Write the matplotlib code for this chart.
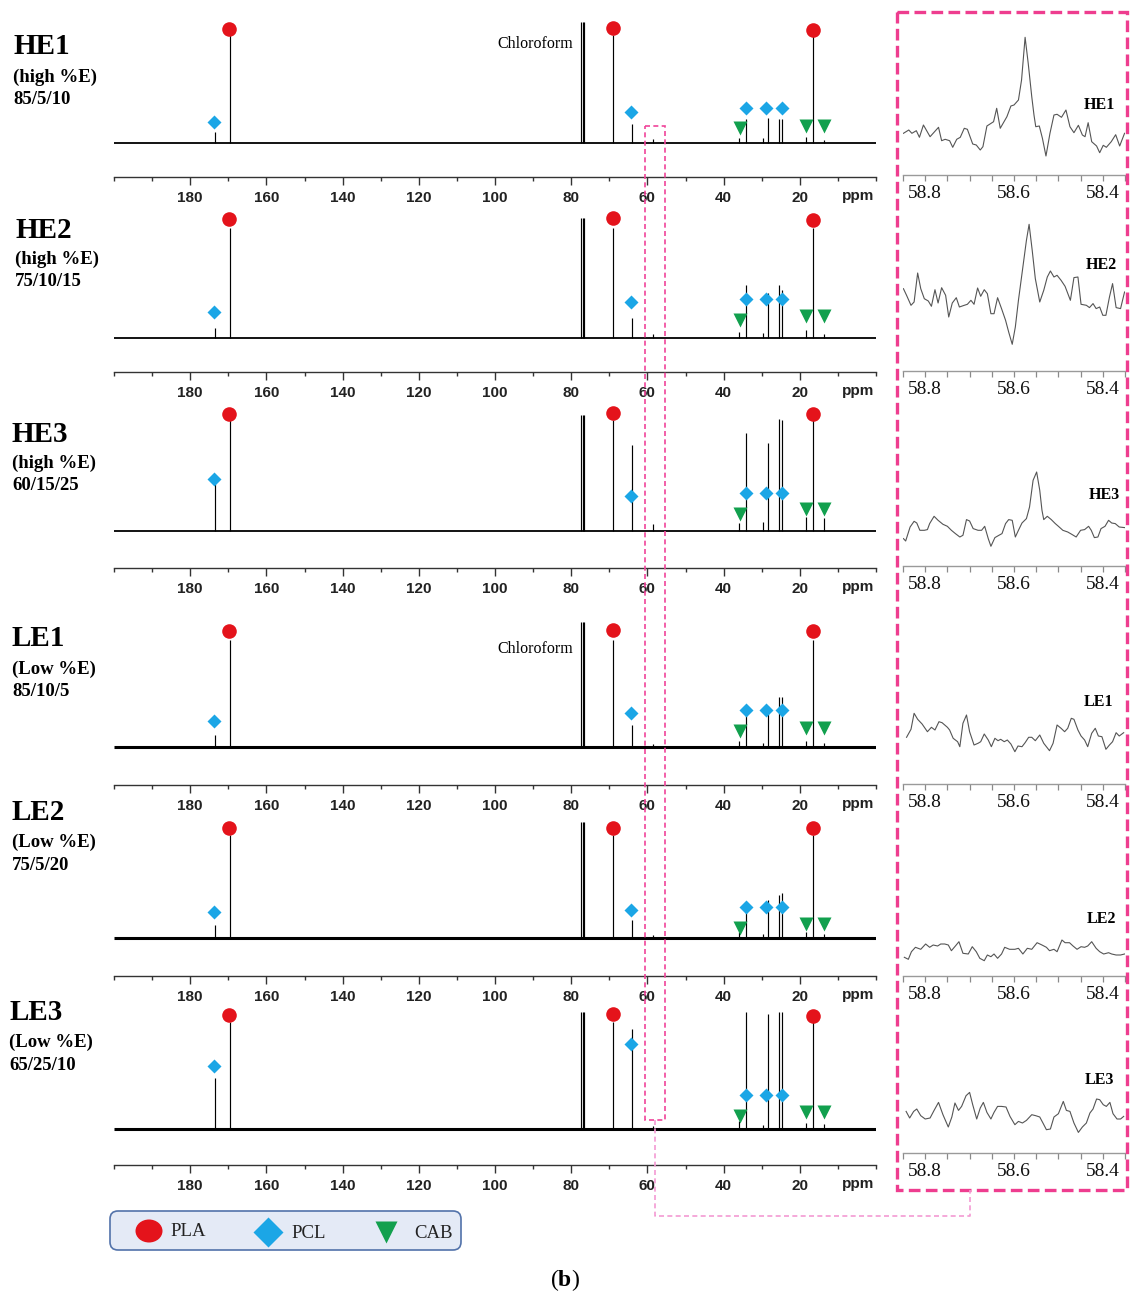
import numpy as np
import matplotlib
matplotlib.use("Agg")
import matplotlib.pyplot as plt
from matplotlib.patches import FancyBboxPatch, Rectangle, Ellipse
from matplotlib.ticker import MultipleLocator

plt.rcParams['mathtext.fontset'] = 'custom'
plt.rcParams['mathtext.rm'] = 'Liberation Serif'
plt.rcParams['mathtext.bf'] = 'Liberation Serif:bold'

W, H = 1130, 1296

# ---------------- data ----------------
sample_names = ["HE1", "HE2", "HE3", "LE1", "LE2", "LE3"]
sample_energy = ["(high %E)", "(high %E)", "(high %E)", "(Low %E)", "(Low %E)", "(Low %E)"]
sample_ratio = ["85/5/10", "75/10/15", "60/15/25", "85/10/5", "75/5/20", "65/25/10"]

# peak positions (ppm): PCL C=O, PLA C=O, CDCl3 triplet, PLA CH, PCL OCH2, 58.6, CAB, PCL, 29.6, PCL, PCL, PCL, CAB, PLA CH3, CAB
peak_ppm = [173.5, 169.6, 77.3, 77.0, 76.7, 69.0, 64.1, 58.6, 35.9, 34.1, 29.6, 28.3, 25.5, 24.6, 18.4, 16.6, 13.7]
chloroform_ppm = [77.3, 77.0, 76.7]
peak_int = {
    "HE1": [11, 108, 121, 121, 121, 108, 19, 4, 5, 24, 5, 25, 24, 24, 6, 108, 3],
    "HE2": [10, 110, 120, 120, 120, 110, 20, 4, 6, 53, 5, 45, 53, 48, 8, 110, 4],
    "HE3": [47, 111, 116, 116, 116, 111, 86, 7, 8, 98, 9, 88, 112, 111, 14, 111, 13],
    "LE1": [12, 107, 125, 125, 125, 107, 22, 3, 6, 42, 4, 41, 50, 50, 6, 107, 4],
    "LE2": [13, 103, 116, 116, 116, 103, 18, 3, 6, 33, 4, 38, 43, 45, 6, 103, 4],
    "LE3": [51, 107, 117, 117, 117, 107, 100, 3, 8, 117, 4, 115, 117, 117, 6, 107, 5],
}

# marker positions (ppm) and heights above baseline
pla_mark_ppm = [169.7, 68.9, 16.5]
pcl_mark_ppm = [173.7, 64.2, 34.0, 28.8, 24.7]
cab_mark_ppm = [35.8, 18.3, 13.6]
pla_mark_h = {"HE1": [114, 115, 113], "HE2": [119, 120, 118], "HE3": [117, 118, 117],
              "LE1": [116, 117, 116], "LE2": [110, 110, 110], "LE3": [114, 115, 113]}
pcl_mark_h = {"HE1": [21, 31, 35, 35, 35], "HE2": [26, 36, 39, 39, 39], "HE3": [52, 35, 38, 38, 38],
              "LE1": [26, 34, 37, 37, 37], "LE2": [26, 28, 31, 31, 31], "LE3": [63, 85, 34, 34, 34]}
cab_mark_h = {"HE1": [15, 17, 17], "HE2": [18, 22, 22], "HE3": [17, 22, 22],
              "LE1": [16, 19, 19], "LE2": [10, 14, 14], "LE3": [13, 17, 17]}

main_ticks = [180, 160, 140, 120, 100, 80, 60, 40, 20]
main_tick_labels = ["180", "160", "140", "120", "100", "80", "60", "40", "20"]
inset_ticks = [58.8, 58.6, 58.4]
inset_tick_labels = ["58.8", "58.6", "58.4"]

# zoomed traces around 58.6 ppm
inset_ppm = {
    "HE1": [58.849, 58.837, 58.830, 58.820, 58.813, 58.804, 58.789, 58.770, 58.763, 58.755, 58.745, 58.738,
            58.729, 58.721, 58.712, 58.705, 58.693, 58.685, 58.676, 58.670, 58.661, 58.646, 58.639, 58.631,
            58.616, 58.607, 58.600, 58.590, 58.583, 58.575, 58.568, 58.560, 58.555, 58.551, 58.543, 58.536,
            58.528, 58.519, 58.510, 58.503, 58.493, 58.483, 58.474, 58.465, 58.455, 58.446, 58.440, 58.433,
            58.425, 58.414, 58.407, 58.399, 58.392, 58.381, 58.371, 58.362, 58.351],
    "HE2": [58.849, 58.842, 58.832, 58.825, 58.817, 58.810, 58.802, 58.793, 58.786, 58.778, 58.771, 58.763,
            58.754, 58.747, 58.739, 58.730, 58.723, 58.712, 58.705, 58.697, 58.690, 58.682, 58.675, 58.667,
            58.660, 58.652, 58.645, 58.637, 58.628, 58.619, 58.612, 58.604, 58.597, 58.590, 58.580, 58.572,
            58.566, 58.559, 58.552, 58.542, 58.533, 58.525, 58.518, 58.510, 58.503, 58.494, 58.485, 58.473,
            58.465, 58.456, 58.449, 58.437, 58.430, 58.422, 58.415, 58.407, 58.400, 58.393, 58.385, 58.378,
            58.370, 58.360, 58.351],
    "HE3": [58.849, 58.844, 58.834, 58.825, 58.819, 58.812, 58.802, 58.795, 58.790, 58.780, 58.771, 58.760,
            58.750, 58.741, 58.732, 58.722, 58.715, 58.707, 58.700, 58.692, 58.681, 58.673, 58.666, 58.658,
            58.652, 58.643, 58.634, 58.627, 58.619, 58.612, 58.604, 58.597, 58.590, 58.582, 58.572, 58.565,
            58.557, 58.549, 58.542, 58.537, 58.533, 58.525, 58.516, 58.507, 58.500, 58.490, 58.479, 58.470,
            58.460, 58.450, 58.441, 58.432, 58.426, 58.419, 58.411, 58.404, 58.395, 58.387, 58.380, 58.372,
            58.363, 58.351],
    "LE1": [58.842, 58.832, 58.825, 58.817, 58.807, 58.795, 58.786, 58.778, 58.769, 58.762, 58.750, 58.745,
            58.737, 58.727, 58.722, 58.715, 58.707, 58.700, 58.690, 58.681, 58.675, 58.667, 58.658, 58.651,
            58.643, 58.636, 58.630, 58.622, 58.615, 58.607, 58.598, 58.591, 58.582, 58.575, 58.567, 58.560,
            58.552, 58.542, 58.533, 58.520, 58.512, 58.503, 58.494, 58.486, 58.479, 58.471, 58.465, 58.456,
            58.449, 58.441, 58.434, 58.425, 58.417, 58.410, 58.402, 58.393, 58.385, 58.378, 58.370, 58.363,
            58.353],
    "LE2": [58.847, 58.838, 58.831, 58.822, 58.810, 58.799, 58.790, 58.782, 58.772, 58.765, 58.756, 58.748,
            58.741, 58.732, 58.724, 58.715, 58.703, 58.694, 58.685, 58.677, 58.667, 58.660, 58.652, 58.645,
            58.637, 58.628, 58.621, 58.610, 58.598, 58.590, 58.580, 58.570, 58.560, 58.548, 58.537, 58.527,
            58.520, 58.510, 58.503, 58.492, 58.485, 58.475, 58.467, 58.458, 58.449, 58.441, 58.434, 58.425,
            58.415, 58.407, 58.398, 58.387, 58.380, 58.370, 58.360, 58.351],
    "LE3": [58.843, 58.835, 58.826, 58.819, 58.810, 58.800, 58.789, 58.780, 58.770, 58.760, 58.748, 58.740,
            58.733, 58.725, 58.718, 58.708, 58.700, 58.693, 58.684, 58.676, 58.669, 58.661, 58.652, 58.645,
            58.637, 58.628, 58.618, 58.609, 58.598, 58.590, 58.581, 58.572, 58.560, 58.551, 58.542, 58.534,
            58.527, 58.518, 58.510, 58.500, 58.489, 58.482, 58.474, 58.465, 58.455, 58.446, 58.437, 58.429,
            58.422, 58.414, 58.407, 58.399, 58.392, 58.384, 58.377, 58.368, 58.360, 58.353],
}
inset_int = {
    "HE1": [41.7, 45.0, 41.7, 44.3, 37.7, 50.0, 38.3, 47.7, 34.3, 35.7, 34.3, 27.7, 35.7, 37.7, 46.7, 45.7,
            31.0, 30.0, 25.0, 28.3, 49.0, 53.3, 66.7, 46.7, 58.3, 69.0, 70.0, 75.0, 95.0, 137.7, 111.7, 78.3,
            60.0, 48.3, 49.0, 36.7, 19.0, 41.7, 60.0, 60.7, 57.7, 65.0, 48.3, 42.3, 49.7, 40.0, 38.3, 52.3,
            33.3, 29.0, 22.3, 29.7, 27.7, 33.3, 40.3, 29.0, 41.7],
    "HE2": [82.3, 75.7, 65.7, 69.0, 98.0, 82.3, 72.3, 70.0, 64.7, 81.3, 68.0, 83.3, 75.7, 54.0, 68.0, 73.3,
            64.0, 65.7, 66.7, 70.7, 66.7, 83.0, 74.7, 81.3, 77.3, 57.3, 57.3, 73.3, 62.3, 50.7, 39.0, 26.7,
            44.0, 70.7, 104.0, 130.7, 146.7, 120.7, 92.4, 69.0, 80.7, 94.0, 100.0, 94.0, 95.7, 90.7, 84.7, 70.7,
            93.4, 94.0, 66.7, 65.7, 63.4, 67.4, 62.4, 64.0, 55.7, 55.7, 74.0, 87.4, 63.4, 62.4, 79.0],
    "HE3": [27.4, 25.0, 39.0, 44.7, 43.0, 35.7, 35.7, 36.4, 42.4, 49.7, 45.7, 41.7, 39.7, 35.7, 32.4, 29.0,
            30.7, 46.4, 45.0, 37.4, 35.7, 35.7, 39.7, 27.4, 19.7, 28.4, 30.7, 32.4, 42.4, 46.4, 45.7, 29.0,
            35.7, 43.0, 47.4, 59.0, 85.7, 94.0, 75.7, 55.7, 46.4, 49.7, 46.4, 42.4, 39.7, 35.7, 34.0, 31.7,
            29.0, 35.7, 36.4, 39.7, 35.7, 28.4, 29.0, 37.4, 39.7, 45.7, 43.0, 42.4, 39.0, 38.4],
    "LE1": [46.7, 54.7, 70.7, 64.7, 60.0, 52.3, 56.7, 54.0, 62.3, 61.3, 56.7, 54.0, 45.7, 42.3, 37.3, 60.7,
            69.0, 52.3, 39.0, 40.7, 42.3, 50.0, 44.0, 37.3, 45.7, 43.3, 44.7, 42.3, 44.0, 40.0, 32.3, 38.0,
            37.3, 41.3, 46.7, 46.7, 43.3, 49.0, 40.7, 33.3, 40.7, 59.0, 55.7, 52.3, 55.7, 65.7, 64.7, 54.0,
            48.0, 44.0, 37.3, 50.7, 55.7, 48.0, 47.3, 34.7, 39.0, 42.3, 51.3, 48.0, 51.3],
    "LE2": [18.7, 16.7, 24.3, 28.7, 26.7, 32.0, 28.7, 31.0, 30.0, 32.0, 32.0, 31.0, 25.3, 30.0, 34.3, 22.7,
            22.0, 29.3, 24.3, 17.7, 15.3, 21.0, 19.3, 22.0, 17.7, 22.0, 28.7, 26.7, 26.7, 27.7, 22.0, 27.7,
            26.7, 33.3, 31.0, 28.7, 25.3, 26.7, 24.3, 36.0, 33.3, 33.3, 30.0, 26.7, 29.3, 28.7, 30.0, 34.3,
            27.7, 24.3, 22.0, 23.3, 22.0, 21.0, 21.0, 22.0],
    "LE3": [41.6, 35.0, 41.6, 44.0, 37.3, 34.0, 35.0, 42.6, 50.6, 38.3, 26.0, 36.0, 50.0, 42.6, 46.6, 57.3,
            60.6, 48.3, 34.0, 45.0, 50.6, 40.6, 34.0, 40.6, 46.6, 46.6, 46.0, 36.6, 28.3, 31.6, 30.0, 32.6,
            38.3, 37.3, 36.0, 29.3, 23.3, 24.0, 36.0, 39.3, 51.6, 42.6, 41.6, 30.0, 20.6, 26.0, 30.0, 40.0,
            44.0, 54.0, 53.3, 48.3, 46.6, 50.6, 39.3, 34.0, 34.0, 36.6],
}

legend_labels = ["PLA", "PCL", "CAB"]

# ---------------- layout (pixels) ----------------
axis_y = [177, 372, 568, 785, 976, 1165]
base_y = [143, 338, 531, 747, 938, 1129]
name_y = [47, 230, 434, 639, 813, 1013]
energy_y = [77, 259, 463, 669, 842, 1042]
ratio_y = [100, 282, 486, 691, 866, 1066]
label_x = [13, 15, 12, 12, 12, 9]
noise_lw = [1.3, 1.3, 1.3, 2.2, 2.2, 2.2]
inset_axis_y = [175, 371, 566, 784, 976, 1153]
inset_label_xy = [(1099, 105), (1101, 265), (1104, 495), (1099, 702), (1101, 919), (1099, 1080)]
chloro_label_y = {0: 44, 3: 649}

RED = '#e4131b'
BLUE = '#1ba6e6'
GREEN = '#12a04e'
PINK = '#ee3d8f'

SERIF = 'Liberation Serif'
SANS = 'Liberation Sans'

fig = plt.figure(figsize=(W / 100, H / 100), dpi=100)
fig.patch.set_facecolor('white')


def fx(x):
    return x / W


def fy(y):
    return 1 - y / H


AX_L, AX_R = 114, 876
PANEL_H = 175
for i, name in enumerate(sample_names):
    off = axis_y[i] - base_y[i]
    ax = fig.add_axes([fx(AX_L), fy(axis_y[i]), (AX_R - AX_L) / W, PANEL_H / H])
    ax.set_xlim(200, 0)
    ax.set_ylim(-off, PANEL_H - off)
    ax.patch.set_visible(False)
    for s in ['left', 'right', 'top']:
        ax.spines[s].set_visible(False)
    ax.spines['bottom'].set_color('#333333')
    ax.spines['bottom'].set_linewidth(1.0)
    ax.set_yticks([])
    ax.set_xticks(main_ticks, labels=main_tick_labels, fontweight='bold', fontfamily=SANS, fontsize=11)
    ax.xaxis.set_minor_locator(MultipleLocator(10))
    ax.tick_params(axis='x', which='major', length=6, width=1.0, color='#333333', pad=4, labelcolor='#222222')
    ax.tick_params(axis='x', which='minor', length=3, width=1.0, color='#333333')

    # baseline (noise band)
    ax.plot([200, 0], [0, 0], color='black', lw=noise_lw[i], solid_capstyle='butt', zorder=2)
    # peaks
    ints = peak_int[name]
    for p, h in zip(peak_ppm, ints):
        ax.vlines(p, 0, h, color='black', lw=0.85, zorder=2)
    # assignment markers
    ax.plot(pla_mark_ppm, pla_mark_h[name], 'o', color=RED, ms=10.5, mec='none', clip_on=False, zorder=5)
    ax.plot(pcl_mark_ppm, pcl_mark_h[name], 'D', color=BLUE, ms=7.2, mec='none', clip_on=False, zorder=5)
    ax.plot(cab_mark_ppm, cab_mark_h[name], 'v', color=GREEN, ms=10.5, mec='none', clip_on=False, zorder=5)

# insets
INS_L, INS_R = 903, 1125
INS_H = 165
for i, name in enumerate(sample_names):
    ax = fig.add_axes([fx(INS_L), fy(inset_axis_y[i]), (INS_R - INS_L) / W, INS_H / H])
    ax.set_xlim(58.85, 58.35)
    ax.set_ylim(0, INS_H)
    ax.patch.set_visible(False)
    for s in ['left', 'right', 'top']:
        ax.spines[s].set_visible(False)
    ax.spines['bottom'].set_color('#9a9a9a')
    ax.spines['bottom'].set_linewidth(1.0)
    ax.set_yticks([])
    ax.set_xticks(inset_ticks, labels=inset_tick_labels, fontfamily=SERIF, fontsize=14)
    ax.xaxis.set_minor_locator(MultipleLocator(0.05))
    ax.tick_params(axis='x', which='major', length=4, width=0.9, color='#8a8a8a', pad=3, labelcolor='#111111')
    ax.tick_params(axis='x', which='minor', length=4, width=0.9, color='#8a8a8a')
    ax.plot(inset_ppm[name], inset_int[name], color='#555555', lw=0.8)

# overlay for annotations
ov = fig.add_axes([0, 0, 1, 1])
ov.set_xlim(0, W)
ov.set_ylim(H, 0)
ov.axis('off')
ov.set_zorder(10)

for i, name in enumerate(sample_names):
    ov.text(label_x[i], name_y[i], name, fontfamily=SERIF, fontweight='bold', fontsize=21, ha='left', va='center')
    ov.text(label_x[i], energy_y[i], sample_energy[i], fontfamily=SERIF, fontweight='bold', fontsize=13.5,
            ha='left', va='center')
    ov.text(label_x[i], ratio_y[i], sample_ratio[i], fontfamily=SERIF, fontweight='bold', fontsize=13.5,
            ha='left', va='center')
    ov.text(858, axis_y[i] + 19, 'ppm', fontfamily=SANS, fontweight='bold', fontsize=11, ha='center',
            va='center', color='#222222')
    lx, ly = inset_label_xy[i]
    ov.text(lx, ly, name, fontfamily=SERIF, fontweight='bold', fontsize=11.5, ha='center', va='center')

for i, y in chloro_label_y.items():
    ov.text(535, y, 'Chloroform', fontfamily=SERIF, fontsize=11.5, ha='center', va='center')

# pink highlight boxes and connector
ov.add_patch(Rectangle((897, 12), 230, 1178, fill=False, ec=PINK, lw=2.4, ls=(0, (3.5, 1.6))))
ov.add_patch(Rectangle((645, 126), 20, 994, fill=False, ec='#f0449a', lw=1.2, ls=(0, (3, 2))))
ov.plot([655, 655, 970, 970], [1120, 1216, 1216, 1190], color='#f49ad3', lw=1.2, ls=(0, (3, 2)))

# legend
ov.add_patch(FancyBboxPatch((110, 1211), 351, 39, boxstyle='round,pad=0,rounding_size=8',
                            fc='#e4eaf6', ec='#5272aa', lw=1.2))
ov.add_patch(Ellipse((149, 1231), 27, 23, fc=RED, ec='none'))
ov.plot([268], [1232], 'D', color=BLUE, ms=15, mec='none')
ov.plot([386], [1232], 'v', color=GREEN, ms=16, mec='none')
ov.text(170, 1232, legend_labels[0], fontfamily=SERIF, fontsize=13.5, ha='left', va='center', color='#222222')
ov.text(291, 1234, legend_labels[1], fontfamily=SERIF, fontsize=13.5, ha='left', va='center', color='#222222')
ov.text(414, 1233, legend_labels[2], fontfamily=SERIF, fontsize=13.5, ha='left', va='center', color='#222222')

ov.text(565, 1280, r'$(\mathbf{b})$', fontsize=17, ha='center', va='center')

fig.savefig('out.png', dpi=100, facecolor='white')
